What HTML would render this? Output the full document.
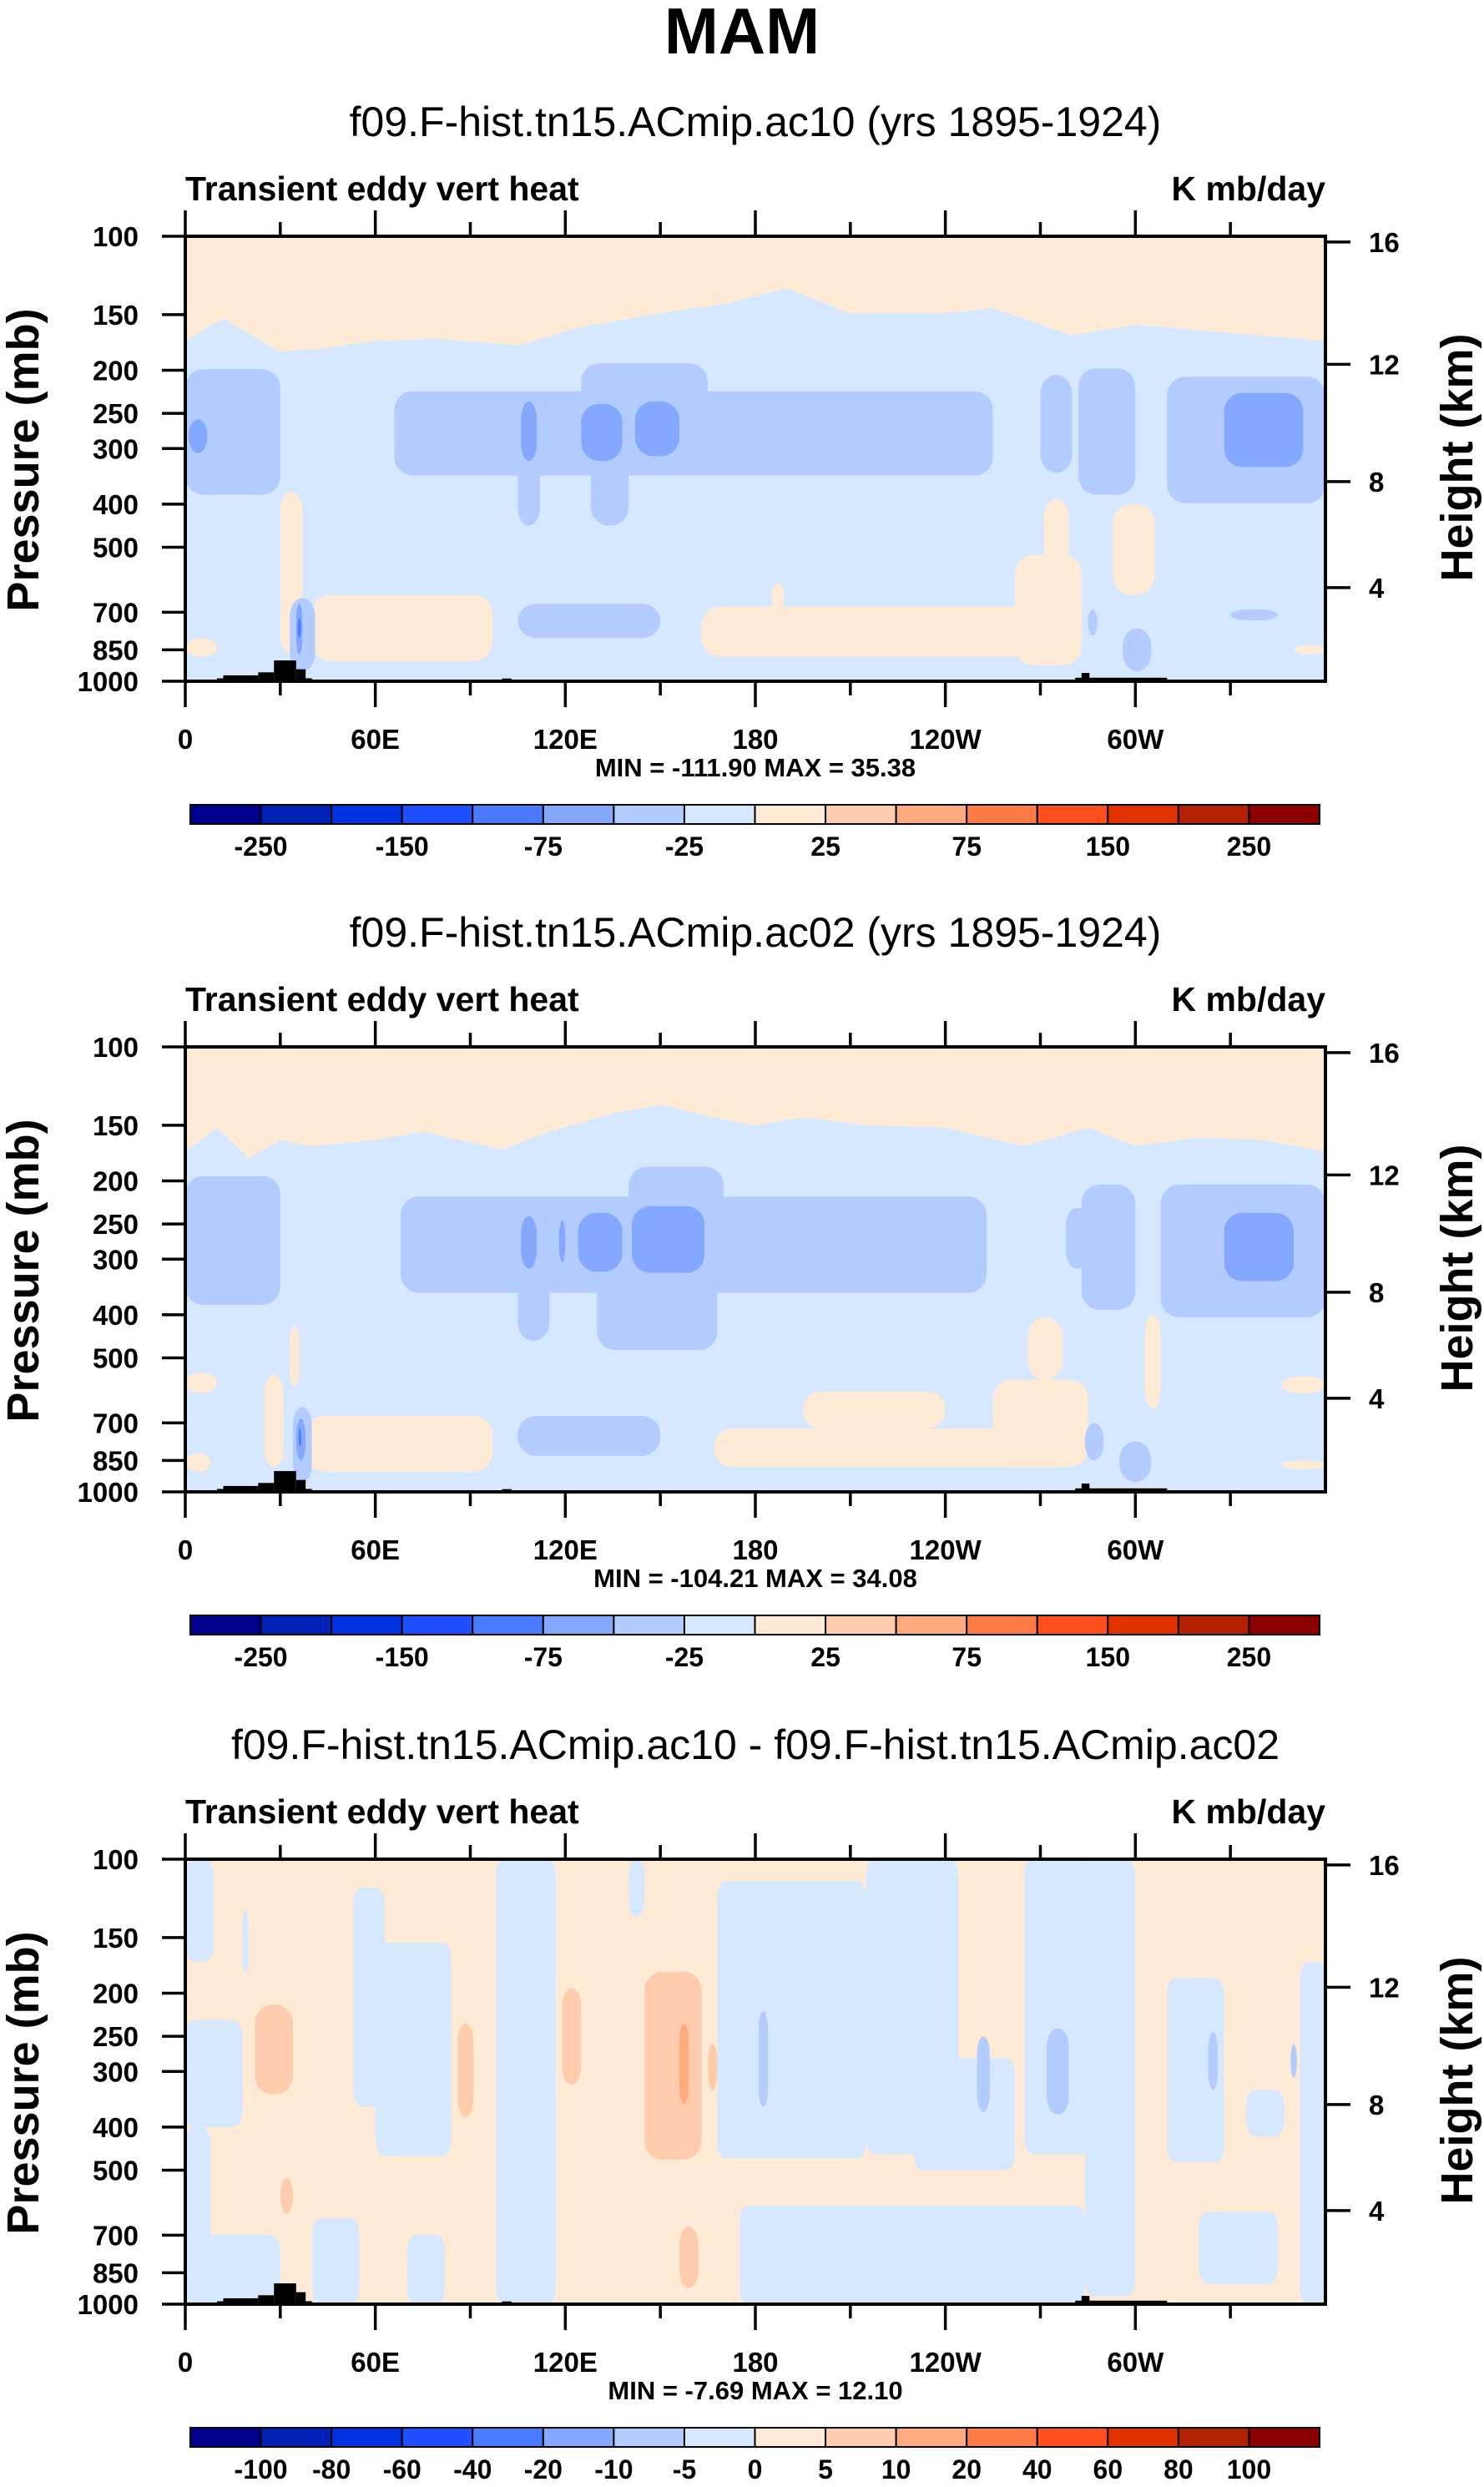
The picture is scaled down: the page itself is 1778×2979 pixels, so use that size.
<!DOCTYPE html>
<html><head><meta charset="utf-8"><style>
html,body{margin:0;padding:0;background:#fff}
svg text{font-family:"Liberation Sans",Arial,sans-serif}
</style></head><body>
<svg id="fig" xmlns="http://www.w3.org/2000/svg" width="1778" height="2974" viewBox="0 0 1778 2974">
<text x="889" y="64" text-anchor="middle" font-size="78" font-weight="bold">MAM</text>
</svg>
<script>
// ---------- data ----------
const colors = ["#00008c","#0022b4","#0033e0","#1f4fff","#4a7aff","#85a8ff","#b3ccff","#d6e8ff","#ffead6","#ffcbad","#ffab80","#ff7b45","#ff4f1f","#e03300","#b32200","#8c0000"];
const levelsFull = ["-250","-200","-150","-100","-75","-50","-25","0","25","50","75","100","150","200","250"];
const levelsDiff = ["-100","-80","-60","-40","-20","-10","-5","0","5","10","20","40","60","80","100"];
const pTicks = [100,150,200,250,300,400,500,700,850,1000];
const hTicks = [16,12,8,4];
const hTickP = [103,194,356,616];
const lonTickVals = [0,60,120,180,240,300];
const lonTickLabels = ["0","60E","120E","180","120W","60W"];
const titles = ["f09.F-hist.tn15.ACmip.ac10 (yrs 1895-1924)","f09.F-hist.tn15.ACmip.ac02 (yrs 1895-1924)","f09.F-hist.tn15.ACmip.ac10 - f09.F-hist.tn15.ACmip.ac02"];
const minmax = ["MIN = -111.90  MAX =  35.38","MIN = -104.21  MAX =  34.08","MIN =  -7.69  MAX =  12.10"];
// cream top boundary [lon, p]
const top1Lon = [0,12,30,45,60,80,105,125,150,170,190,210,240,255,280,300,330,360];
const top1P   = [172,153,182,178,172,170,176,160,149,142,131,149,149,145,167,158,165,172];
const top2Lon = [0,10,20,30,40,60,75,100,115,135,150,165,180,195,215,240,265,285,300,320,340,360];
const top2P   = [172,152,178,162,167,162,155,170,155,141,135,143,150,144,150,152,167,152,167,160,162,172];
// blobs: [lon0, lon1, pTop, pBottom, colorIndex]
const blobs1 = [
 [0,30,199,381,6],[66,255,223,345,6],[125,165,193,300,6],[105,112,300,447,6],[128,140,300,447,6],
 [270,280,205,340,6],[282,300,198,381,6],[310,360,207,398,6],
 [1,7,258,307,5],[106,111,235,320,5],[125,138,238,320,5],[142,156,235,312,5],[328,353,225,330,5],
 [30,37,375,870,8],[40,97,640,900,8],[163,280,680,880,8],[185,189,600,700,8],[262,283,520,920,8],[271,279,390,560,8],
 [293,306,400,640,8],[0,10,800,880,8],[350,360,830,870,8],
 [105,150,670,800,6],[33,41,650,950,6],[285,288,690,790,6],[296,305,760,950,6],[330,345,690,730,6],
 [35,37,670,870,5],[35.5,36.5,720,800,4]
];
const blobs2 = [
 [0,30,195,380,6],[68,253,217,357,6],[140,170,186,300,6],[105,115,300,458,6],[130,168,300,480,6],
 [278,285,230,315,6],[283,300,204,390,6],[308,360,204,405,6],
 [106,111,240,315,5],[118,120,245,305,5],[124,138,236,320,5],[141,164,228,322,5],[328,350,236,336,5],
 [33,36,424,578,8],[25,31,545,880,8],[38,97,675,900,8],[167,280,720,880,8],[195,240,595,720,8],
 [255,285,560,880,8],[266,277,405,560,8],[303,308,400,650,8],[0,10,540,600,8],[0,8,820,900,8],[346,360,550,600,8],[346,360,850,890,8],
 [105,150,675,830,6],[34,40,645,950,6],[284,290,700,850,6],[295,305,770,950,6],
 [35,38,685,850,5],[35.8,36.6,720,790,4]
];
const base3Blue = [
 [0,9,100,170],[0,18,230,400],[0,8,400,1000],[0,30,700,1000],[53,63,116,360],[60,84,154,465],[18,20,130,180],
 [98,117,100,1000],[140,145,100,135],[168,215,112,470],[175,284,600,1000],[215,244,100,460],
 [230,262,280,500],[265,286,100,460],[284,300,100,960],[310,328,185,480],[335,347,330,420],[352,360,170,1000],
 [40,55,640,1000],[70,82,700,1000],[320,345,620,900]
];
const salmon3 = [
 [145,163,179,473,9],[22,34,212,338,9],[86,91,234,380,9],[119,125,195,321,9],[165,168,260,330,9],
 [30,34,520,626,9],[156,162,670,920,9],[156,159,234,355,10],
 [181,184,220,360,6],[250,254,250,370,6],[272,279,240,375,6],[323,326,245,330,6],[349,351,260,310,6]
];
// terrain [lon0, lon1, pTop]
const terrain = [[10,12,985],[12,23,970],[23,28,955],[28,35,898],[35,38,940],[38,40,985],[100,103,986],[281,310,982],[283,285.5,958]];

// ---------- drawing ----------
const svg = document.getElementById('fig');
const NS = "http://www.w3.org/2000/svg";
const L = 222, R = 1588, W = R - L, H = 533;
const offsets = [0, 971, 1944];
function mk(tag, attrs, parent){ const e=document.createElementNS(NS,tag); for(const k in attrs) e.setAttribute(k,attrs[k]); (parent||svg).appendChild(e); return e; }

function drawPanel(idx, topLon, topP, blobs, isDiff){
  const T = 283 + offsets[idx], B = T + H;
  const xOf = lon => L + lon/360*W;
  const yOf = p => T + Math.log10(p/100)*H;
  const g = mk('g',{});
  
  
  const st = mk('text',{x:905,y:T-120,'text-anchor':'middle','font-size':50},g);
  st.textContent = titles[idx];
  
  
  const lt = mk('text',{x:L,y:T-43,'font-size':41,'font-weight':'bold'},g);
  lt.textContent = 'Transient eddy vert heat';
  
  
  const ut = mk('text',{x:R,y:T-43,'font-size':41,'font-weight':'bold','text-anchor':'end'},g);
  ut.textContent = 'K mb/day';
  
  
  const cid='clip'+idx;
  const cp = mk('clipPath',{id:cid},g); mk('rect',{x:L,y:T,width:W,height:H},cp);
  const area = mk('g',{'clip-path':'url(#'+cid+')'},g);
  
  
  const bg = mk('rect',{x:L,y:T,width:W,height:H,fill:isDiff?colors[8]:colors[7]},area);
  
  
  if(isDiff){
    base3Blue.forEach(b=>{
      const x0=xOf(b[0]),x1=xOf(b[1]),y0=yOf(b[2]),y1=yOf(b[3]);
      const w=x1-x0,h=y1-y0;
      const r=mk('rect',{x:x0,y:y0,width:w,height:h,rx:Math.min(w/2,10),ry:Math.min(h/2,20),fill:colors[7]},area);
      
      
    });
  } else {
    let d='M'+xOf(0)+','+(T-5);
    topLon.forEach((lo,i)=>{ d+=' L'+xOf(lo)+','+yOf(topP[i]); });
    d+=' L'+xOf(360)+','+(T-5)+' Z';
    const tp=mk('path',{d:d,fill:colors[8]},area);
    
    
  }
  blobs.forEach(b=>{
    const x0=xOf(b[0]),x1=xOf(b[1]),y0=yOf(b[2]),y1=yOf(b[3]);
    const w=x1-x0,h=y1-y0;
    const r=mk('rect',{x:x0,y:y0,width:w,height:h,rx:Math.min(w/2,22),ry:Math.min(h/2,22),fill:colors[b[4]]},area);
    
    
  });
  const tg=mk('g',{fill:'#000'},g);
  
  
  terrain.forEach(t=>{ mk('rect',{x:xOf(t[0]),y:yOf(t[2]),width:xOf(t[1])-xOf(t[0]),height:B-yOf(t[2])},tg); });
  const fr=mk('rect',{x:L,y:T,width:W,height:H,fill:'none',stroke:'#000','stroke-width':4},g);
  
  
  for(let lo=0;lo<=330;lo+=30){
    const major=lo%60===0, len=major?31:17, x=xOf(lo);
    mk('line',{x1:x,y1:T,x2:x,y2:T-len,stroke:'#000','stroke-width':3.5},g);
    mk('line',{x1:x,y1:B,x2:x,y2:B+len,stroke:'#000','stroke-width':3.5},g);
  }
  lonTickVals.forEach((lo,i)=>{
    const t=mk('text',{x:xOf(lo),y:B+81,'text-anchor':'middle','font-size':33,'font-weight':'bold'},g);
    t.textContent=lonTickLabels[i];
    
    
  });
  pTicks.forEach(p=>{
    const y=yOf(p);
    mk('line',{x1:L,y1:y,x2:L-28,y2:y,stroke:'#000','stroke-width':3.5},g);
    const t=mk('text',{x:166,y:y+12,'text-anchor':'end','font-size':33,'font-weight':'bold'},g);
    t.textContent=p;
    
    
  });
  hTicks.forEach((h,i)=>{
    const y=yOf(hTickP[i]);
    mk('line',{x1:R,y1:y,x2:R+30,y2:y,stroke:'#000','stroke-width':3.5},g);
    const t=mk('text',{x:1640,y:y+12,'font-size':33,'font-weight':'bold'},g);
    t.textContent=h;
    
    
  });
  const yt=mk('text',{x:0,y:0,'text-anchor':'middle','font-size':54,'font-weight':'bold',transform:'translate(46,'+(T+268)+') rotate(-90)'},g);
  yt.textContent='Pressure (mb)';
  
  
  const ht=mk('text',{x:0,y:0,'text-anchor':'middle','font-size':54,'font-weight':'bold',transform:'translate(1764,'+(T+265)+') rotate(-90)'},g);
  ht.textContent='Height (km)';
  
  
  const mm=mk('text',{x:905,y:B+114,'text-anchor':'middle','font-size':31,'font-weight':'bold'},g);
  mm.textContent=minmax[idx];
  
  
  const cb=mk('g',{},g);
  
  
  const cx0=228, cx1=1581, cy=B+148, ch=23, bw=(cx1-cx0)/16;
  colors.forEach((c,i)=>{ mk('rect',{x:cx0+i*bw,y:cy,width:bw,height:ch,fill:c,stroke:'#000','stroke-width':2},cb); });
  const labs=isDiff?levelsDiff:levelsFull;
  labs.forEach((l,i)=>{
    if(!isDiff && i%2===1) return;
    const t=mk('text',{x:cx0+(i+1)*bw,y:cy+61,'text-anchor':'middle','font-size':32,'font-weight':'bold'},cb);
    t.textContent=l;
    
    
  });
}
drawPanel(0,top1Lon,top1P,blobs1,false);
drawPanel(1,top2Lon,top2P,blobs2,false);
drawPanel(2,null,null,salmon3,true);
</script>
</body></html>
